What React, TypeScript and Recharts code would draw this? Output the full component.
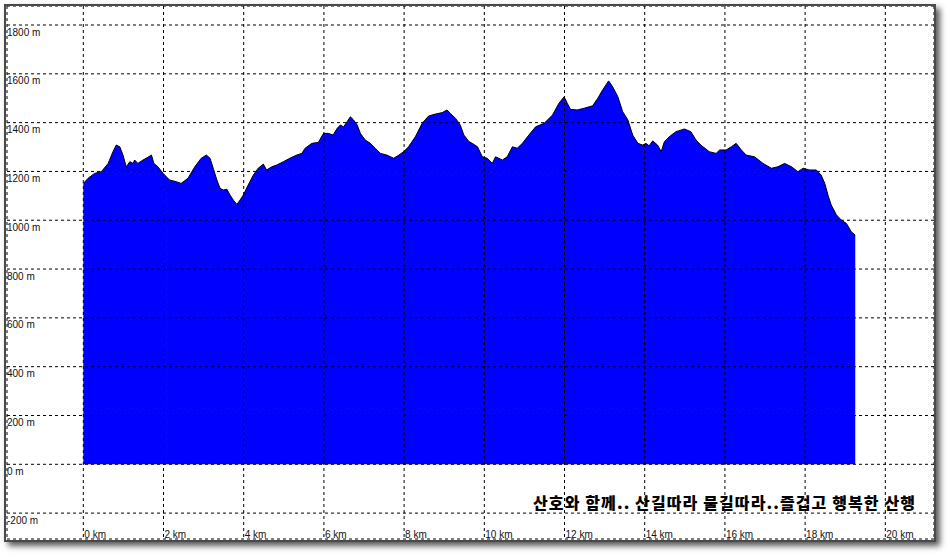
import { Area, AreaChart, CartesianGrid, XAxis, YAxis } from 'recharts';

// distance along the track (km) and elevation (m)
const distanceKm = [
  0.0, 0.12, 0.28, 0.45, 0.62, 0.74, 0.82, 0.91, 0.99, 1.07, 1.16, 1.24, 1.28, 1.36, 1.49, 1.61, 1.7, 1.76, 1.86, 1.99,
  2.15, 2.32, 2.44, 2.61, 2.78, 2.94, 3.07, 3.16, 3.24, 3.33, 3.41, 3.49, 3.58, 3.66, 3.74, 3.83, 3.91, 3.99,
  4.11, 4.24, 4.36, 4.49, 4.57, 4.7, 4.82, 4.99, 5.15, 5.32, 5.45, 5.53, 5.7, 5.86, 5.99,
  6.11, 6.23, 6.33, 6.41, 6.49, 6.58, 6.66, 6.74, 6.83, 6.91, 7.03, 7.16, 7.28, 7.41, 7.57, 7.74, 7.87, 7.99,
  8.11, 8.28, 8.45, 8.61, 8.78, 8.95, 9.07, 9.15, 9.28, 9.4, 9.49, 9.62, 9.7, 9.83, 9.95,
  10.07, 10.2, 10.28, 10.45, 10.57, 10.7, 10.82, 10.95, 11.11, 11.28, 11.49, 11.7, 11.86, 11.99,
  12.07, 12.15, 12.32, 12.49, 12.7, 12.83, 12.95, 13.1, 13.2, 13.33, 13.45, 13.58, 13.7, 13.83, 13.95,
  14.03, 14.11, 14.2, 14.32, 14.41, 14.49, 14.61, 14.78, 14.99, 15.15, 15.28, 15.4, 15.61, 15.78, 15.87,
  16.03, 16.16, 16.28, 16.41, 16.53, 16.74, 16.95, 17.16, 17.32, 17.49, 17.66, 17.82, 17.95,
  18.11, 18.28, 18.4, 18.49, 18.57, 18.65, 18.78, 18.9, 19.03, 19.15, 19.25,
];

const elevationM = [
  1151, 1172, 1192, 1199, 1233, 1281, 1308, 1301, 1267, 1219, 1240, 1233, 1247, 1233, 1247, 1258, 1267, 1233, 1219, 1192,
  1165, 1158, 1151, 1172, 1219, 1254, 1267, 1254, 1213, 1165, 1131, 1124, 1127, 1103, 1083, 1065, 1083, 1103,
  1144, 1185, 1213, 1230, 1206, 1219, 1226, 1240, 1254, 1267, 1274, 1295, 1315, 1319, 1356,
  1356, 1349, 1377, 1390, 1383, 1404, 1424, 1411, 1390, 1356, 1329, 1315, 1295, 1274, 1267, 1254, 1267, 1281,
  1301, 1342, 1397, 1427, 1435, 1441, 1452, 1438, 1418, 1390, 1349, 1322, 1315, 1301, 1260,
  1254, 1233, 1260, 1247, 1260, 1301, 1295, 1315, 1349, 1383, 1397, 1431, 1479, 1506,
  1479, 1454, 1452, 1459, 1469, 1500, 1534, 1571, 1547, 1506, 1445, 1411, 1349, 1315, 1308,
  1315, 1305, 1325, 1308, 1281, 1322, 1342, 1363, 1374, 1363, 1329, 1308, 1281, 1274, 1288,
  1288, 1301, 1315, 1288, 1267, 1260, 1233, 1213, 1219, 1233, 1219, 1199, 1213,
  1206, 1206, 1185, 1151, 1103, 1063, 1022, 1001, 987, 953, 939,
];

const kmTicks = [0, 2, 4, 6, 8, 10, 12, 14, 16, 18, 20];
const meterTicks = [-200, 0, 200, 400, 600, 800, 1000, 1200, 1400, 1600, 1800];

const caption = '산호와 함께.. 산길따라 물길따라..즐겁고 행복한 산행';

const profile = distanceKm.map((km, i) => ({ km, elevation: elevationM[i] }));

const labelFont = '"Liberation Sans", Arial, sans-serif';

const MeterTick = ({ y, payload }: any) => (
  <text x={1} y={y + 10.5} fontSize={10} fontFamily={labelFont} fill="#111">
    {payload.value} m
  </text>
);

const KmTick = ({ x, payload }: any) => (
  <text x={x + 1} y={532} fontSize={10} fontFamily={labelFont} fill="#111">
    {payload.value} km
  </text>
);

export default function App() {
  return (
    <div style={{ position: 'absolute', left: 0, top: 0, width: 950, height: 557, background: '#fff' }}>
      <div
        style={{
          position: 'absolute',
          left: 4,
          top: 4,
          width: 928,
          height: 534,
          border: '2px solid #4a4a4a',
          boxShadow: '4px 4px 6px rgba(0,0,0,0.65)',
          background: '#fff',
        }}
      >
        <AreaChart width={928} height={534} data={profile} margin={{ top: 0, right: 0, bottom: 0, left: 0 }}>
          <XAxis
            dataKey="km"
            type="number"
            domain={[-1.903, 21.214]}
            ticks={kmTicks}
            interval={0}
            height={1}
            axisLine={false}
            tickLine={false}
            tick={<KmTick />}
            allowDataOverflow
          />
          <YAxis
            type="number"
            domain={[-306.1, 1877.9]}
            ticks={meterTicks}
            interval={0}
            width={1}
            axisLine={false}
            tickLine={false}
            tick={<MeterTick />}
            allowDataOverflow
          />
          <Area
            type="linear"
            dataKey="elevation"
            baseValue={0}
            fill="#0000ff"
            fillOpacity={1}
            stroke="#000"
            strokeWidth={1}
            isAnimationActive={false}
            dot={false}
            activeDot={false}
          />
          <CartesianGrid stroke="#000" strokeDasharray="3 3" zIndex={600} />
        </AreaChart>
        <svg
          width={928}
          height={534}
          style={{ position: 'absolute', left: 0, top: 0, pointerEvents: 'none' }}
        >
          <text
            x={527}
            y={503}
            fontSize={16}
            fontWeight={900}
            fontFamily='"Noto Sans CJK KR", sans-serif'
            fill="#000"
            textLength={382}
            lengthAdjust="spacing"
          >
            {caption}
          </text>
        </svg>
      </div>
    </div>
  );
}
